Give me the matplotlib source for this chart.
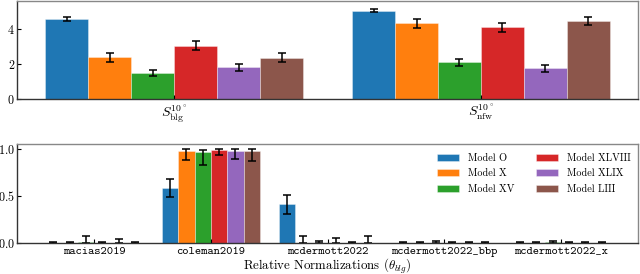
import numpy as np
import matplotlib
matplotlib.use("Agg")
import matplotlib.pyplot as plt

plt.rcParams['font.family'] = ['cmr10', 'DejaVu Serif']
plt.rcParams['mathtext.fontset'] = 'cm'
plt.rcParams['axes.formatter.use_mathtext'] = True

models = ["Model O", "Model X", "Model XV", "Model XLVIII", "Model XLIX", "Model LIII"]
colors = ["#1f77b4", "#ff7f0e", "#2ca02c", "#d62728", "#9467bd", "#8c564b"]

# Top panel
top_cats = [r"$S_{\rm blg}^{10^\circ}$", r"$S_{\rm nfw}^{10^\circ}$"]
s_blg = [4.55, 2.38, 1.47, 3.04, 1.81, 2.34]
s_blg_err = [0.14, 0.25, 0.19, 0.25, 0.20, 0.25]
s_nfw = [5.02, 4.30, 2.09, 4.08, 1.74, 4.43]
s_nfw_err = [0.09, 0.25, 0.20, 0.25, 0.19, 0.24]

# Bottom panel
datasets = ["macias2019", "coleman2019", "mcdermott2022", "mcdermott2022_bbp", "mcdermott2022_x"]
norm_vals = [
    [0.002, 0.580, 0.410, 0.002, 0.002],
    [0.003, 0.972, 0.005, 0.002, 0.002],
    [0.010, 0.962, 0.005, 0.005, 0.008],
    [0.003, 0.986, 0.004, 0.002, 0.003],
    [0.003, 0.972, 0.003, 0.002, 0.002],
    [0.003, 0.972, 0.005, 0.002, 0.002],
]
norm_err_lo = [
    [0.002, 0.095, 0.100, 0.002, 0.002],
    [0.003, 0.088, 0.005, 0.002, 0.002],
    [0.010, 0.135, 0.005, 0.005, 0.008],
    [0.003, 0.049, 0.004, 0.002, 0.003],
    [0.003, 0.077, 0.003, 0.002, 0.002],
    [0.003, 0.102, 0.005, 0.002, 0.002],
]
norm_err_hi = [
    [0.005, 0.095, 0.100, 0.004, 0.004],
    [0.008, 0.025, 0.065, 0.006, 0.006],
    [0.065, 0.028, 0.020, 0.012, 0.014],
    [0.006, 0.014, 0.050, 0.005, 0.006],
    [0.035, 0.022, 0.010, 0.006, 0.006],
    [0.010, 0.025, 0.075, 0.006, 0.006],
]

fig = plt.figure(figsize=(6.4, 2.74), dpi=100)
ax1 = fig.add_axes([0.0266, 0.639, 0.9704, 0.357])
ax2 = fig.add_axes([0.0266, 0.113, 0.9704, 0.361])

width = 0.14
offsets = (np.arange(6) - 2.5) * width
ekw = dict(capsize=2.8, elinewidth=1.1, capthick=1.1, ecolor='black')

x1 = np.arange(len(top_cats))
for i in range(6):
    ax1.bar(x1 + offsets[i], [s_blg[i], s_nfw[i]], width, color=colors[i],
            yerr=[s_blg_err[i], s_nfw_err[i]], edgecolor=(1, 1, 1, 0.4), linewidth=0.6,
            error_kw=ekw, label=models[i])
ax1.set_xticks(x1)
ax1.set_ylim(0, 5.57)
ax1.set_yticks([0, 2, 4])

x2 = np.arange(len(datasets))
for i in range(6):
    ax2.bar(x2 + offsets[i], norm_vals[i], width, color=colors[i],
            yerr=[norm_err_lo[i], norm_err_hi[i]], edgecolor=(1, 1, 1, 0.4), linewidth=0.6,
            error_kw=ekw, label=models[i])
ax2.set_xticks(x2)
ax2.set_ylim(0, 1.05)
ax2.set_yticks([0.0, 0.5, 1.0])
ax2.legend(loc='upper right', bbox_to_anchor=(1.003, 1.0), ncol=2, frameon=False,
           fontsize=7.4, handlelength=2.1, handleheight=0.68, handletextpad=0.87,
           columnspacing=2.15, labelspacing=0.58, borderaxespad=0.5)

for ax in (ax1, ax2):
    ax.tick_params(labelsize=8.7, length=3, width=0.8, pad=1.5, direction='in')
    ax.spines['top'].set_color('#888888')
    ax.spines['right'].set_color('#888888')
    ax.spines['left'].set_color('#333333')
    ax.spines['bottom'].set_color('#333333')
    for s in ax.spines.values():
        s.set_linewidth(1.0)

ax1.set_xticklabels(top_cats, fontsize=10)
ax1.tick_params(axis='x', pad=2)
ax2.set_xticklabels(datasets, fontsize=8.6, family=['cmtt10', 'DejaVu Sans Mono'])
ax2.tick_params(axis='x', pad=2.5)
ax2.set_xlabel(r"Relative Normalizations ($\theta_{blg}$)", fontsize=9.3, labelpad=0.5)

fig.savefig("out.png", dpi=100)
